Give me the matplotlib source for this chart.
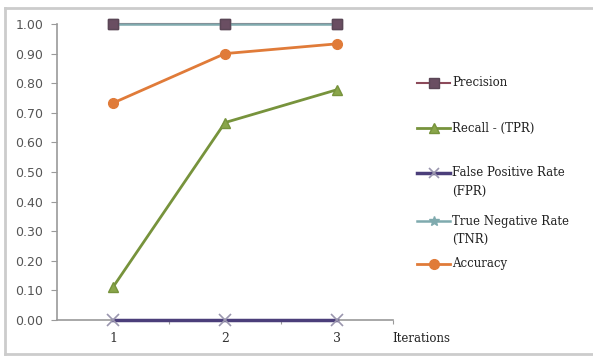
import matplotlib
matplotlib.use('Agg')
import matplotlib.pyplot as plt
from matplotlib.lines import Line2D

# metrics per iteration
iterations = [1, 2, 3]
precision = [1.00, 1.00, 1.00]
recall = [0.111, 0.667, 0.778]
fpr = [0.00, 0.00, 0.00]
tnr = [1.00, 1.00, 1.00]
accuracy = [0.733, 0.900, 0.933]

labels = ['Precision', 'Recall - (TPR)', 'False Positive Rate\n(FPR)',
          'True Negative Rate\n(TNR)', 'Accuracy']
yticks = [0.0, 0.1, 0.2, 0.3, 0.4, 0.5, 0.6, 0.7, 0.8, 0.9, 1.0]

W, H = 593, 356
SERIF = 'DejaVu Serif'
fig = plt.figure(figsize=(W / 100, H / 100), dpi=100)
ax = fig.add_axes([57 / W, 1 - 320 / H, (393 - 57) / W, (320 - 24) / H])

styles = [
    dict(color='#8c4a5a', marker='s', ms=7, mfc='#6a4e62', mec='#5a4656', lw=1.5),
    dict(color='#77933c', marker='^', ms=7, mfc='#8aa64a', mec='#77933c', lw=2),
    dict(color='#4b3e7a', marker='x', ms=8, mec='#9a96ae', mew=1.2, lw=2.5),
    dict(color='#7faaae', marker='*', ms=0, lw=1.8),
    dict(color='#e07b39', marker='o', ms=7, mfc='#e07b39', mec='#e07b39', lw=2),
]
series = [precision, recall, fpr, tnr, accuracy]
order = [0, 3, 1, 4, 2]
for i in order:
    ax.plot(iterations, series[i], clip_on=False, zorder=3 + i, **styles[i])
# precision markers sit above the TNR line
ax.plot(iterations, precision, ls='none', clip_on=False, zorder=10,
        marker='s', ms=7, mfc='#6a4e62', mec='#5a4656')

ax.set_xlim(0.5, 3.5)
ax.set_ylim(0, 1)
ax.set_yticks(yticks)
ax.set_yticklabels(['%.2f' % v for v in yticks], color='#555555',
                   fontsize=9, family='DejaVu Sans')
ax.set_xticks([1.5, 2.5, 3.5], minor=False)
ax.set_xticklabels([])
ax.set_xticks(iterations, minor=True)
ax.set_xticklabels([str(v) for v in iterations], minor=True,
                   family=SERIF, fontsize=9, color='#333333')
ax.tick_params(axis='x', which='minor', length=0, pad=9)
ax.tick_params(axis='x', which='major', length=3, color='#9a9a9a', direction='out')
ax.tick_params(axis='y', length=4, color='#9a9a9a', pad=6)
for s in ['top', 'right']:
    ax.spines[s].set_visible(False)
for s in ['left', 'bottom']:
    ax.spines[s].set_color('#9a9a9a')
    ax.spines[s].set_linewidth(1.2)

fig.text(392 / W, 1 - 338 / H, 'Iterations', family=SERIF,
         fontsize=8.5, va='center', ha='left', color='#222222')

# legend drawn by hand
leg_y = [83, 128, 173, 221, 264]
for i in range(5):
    y = 1 - leg_y[i] / H
    st = dict(styles[i])
    if i == 3:
        st.update(marker='*', ms=7, mfc='#7faaae', mec='#7faaae')
    st['ms'] = min(st['ms'], 7)
    ln = Line2D([417 / W, 450 / W], [y, y], transform=fig.transFigure,
                color=st['color'], lw=st['lw'])
    fig.add_artist(ln)
    mk = Line2D([433.5 / W], [y], transform=fig.transFigure, ls='none',
                marker=st['marker'], ms=st['ms'],
                mfc=st.get('mfc', st['color']), mec=st.get('mec', st['color']),
                mew=st.get('mew', 1))
    fig.add_artist(mk)
    for j, part in enumerate(labels[i].split('\n')):
        fig.text(452 / W, y - j * 18 / H, part, family=SERIF, fontsize=8.5,
                 va='center', ha='left', color='#222222')

# chart frame
for xs, ys in [([5, 5], [8, 354]), ([5, 600], [8, 8]), ([5, 600], [354, 354])]:
    fig.add_artist(Line2D([x / W for x in xs], [1 - v / H for v in ys],
                          transform=fig.transFigure, color='#cccccc', lw=2))

fig.savefig('out.png', dpi=100)
